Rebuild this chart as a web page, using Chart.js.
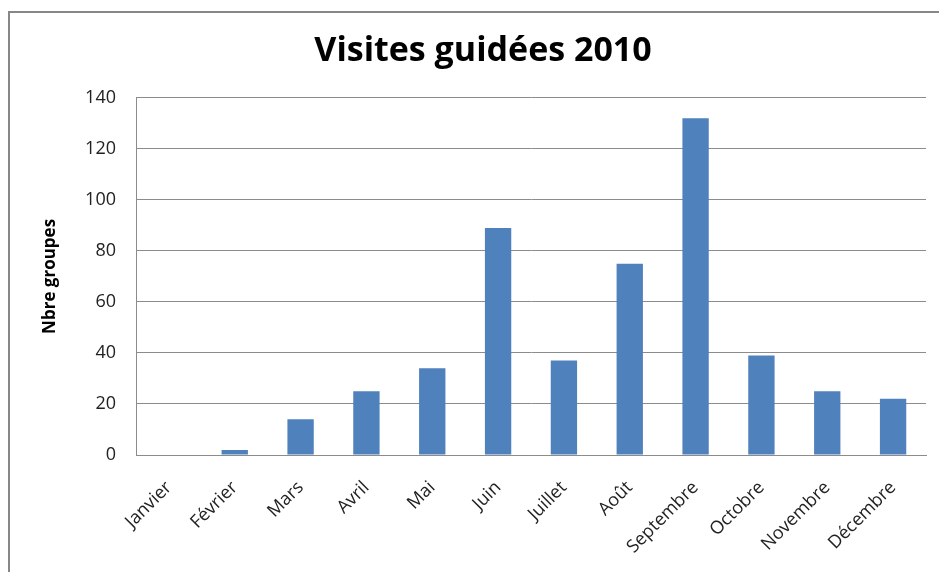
<!DOCTYPE html>
<html>
<head>
<meta charset="utf-8">
<script src="https://cdn.jsdelivr.net/npm/chart.js@4"></script>
<style>
    body { margin: 0; background: #fff; }
    #cadre { position: absolute; left: 8px; top: 11px; width: 1000px; height: 600px; border-left: 2px solid #878787; border-top: 2px solid #878787; }
    #zone { position: absolute; left: 0; top: 0; width: 939px; height: 572px; }
</style>
</head>
<body>
<div id="cadre"></div>
<div id="zone"><canvas id="myChart"></canvas></div>
<script>
var mois = ['Janvier', 'Février', 'Mars', 'Avril', 'Mai', 'Juin', 'Juillet', 'Août', 'Septembre', 'Octobre', 'Novembre', 'Décembre'];
var groupes = [0, 2, 14, 25, 34, 89, 37, 75, 132, 39, 25, 22];
var ticksY = [0, 20, 40, 60, 80, 100, 120, 140];

document.addEventListener('DOMContentLoaded', function () {
    var ctx = document.getElementById('myChart').getContext('2d');
    var police = "'Open Sans', 'Noto Sans', sans-serif";
    var myChart = new Chart(ctx, {
        type: 'bar',
        data: {
            labels: mois,
            datasets: [{
                label: 'Nbre groupes',
                data: groupes,
                backgroundColor: '#4F81BD',
                borderWidth: 0,
                categoryPercentage: 1,
                barPercentage: 0.4
            }]
        },
        options: {
            responsive: true,
            maintainAspectRatio: false,
            animation: false,
            layout: { padding: { left: 40, right: 13, top: 0, bottom: 0 } },
            plugins: {
                legend: { display: false },
                tooltip: { enabled: false },
                title: {
                    display: true,
                    text: 'Visites guidées 2010',
                    color: '#000',
                    font: { family: police, size: 34, weight: 'bold' },
                    padding: { top: 31, bottom: 26 }
                }
            },
            scales: {
                x: {
                    grid: { display: false, drawTicks: false },
                    border: { color: '#8c8c8c', width: 1 },
                    ticks: {
                        color: '#222',
                        font: { family: police, size: 18 },
                        maxRotation: 45,
                        minRotation: 45,
                        padding: 22,
                        autoSkip: false
                    },
                    afterFit: function (scale) { scale.height = 117; }
                },
                y: {
                    min: 0,
                    max: 140,
                    afterBuildTicks: function (scale) {
                        scale.ticks = ticksY.map(function (v) { return { value: v }; });
                    },
                    grid: { color: '#8c8c8c', drawTicks: false },
                    border: { color: '#8c8c8c', width: 1 },
                    ticks: {
                        color: '#222',
                        font: { family: police, size: 18 },
                        padding: 20
                    },
                    title: {
                        display: true,
                        text: 'Nbre groupes',
                        color: '#000',
                        font: { family: police, size: 17, weight: 'bold' },
                        padding: { top: 0, bottom: 0 }
                    },
                    afterFit: function (scale) { scale.width = 96; }
                }
            }
        }
    });
});
</script>
</body>
</html>
